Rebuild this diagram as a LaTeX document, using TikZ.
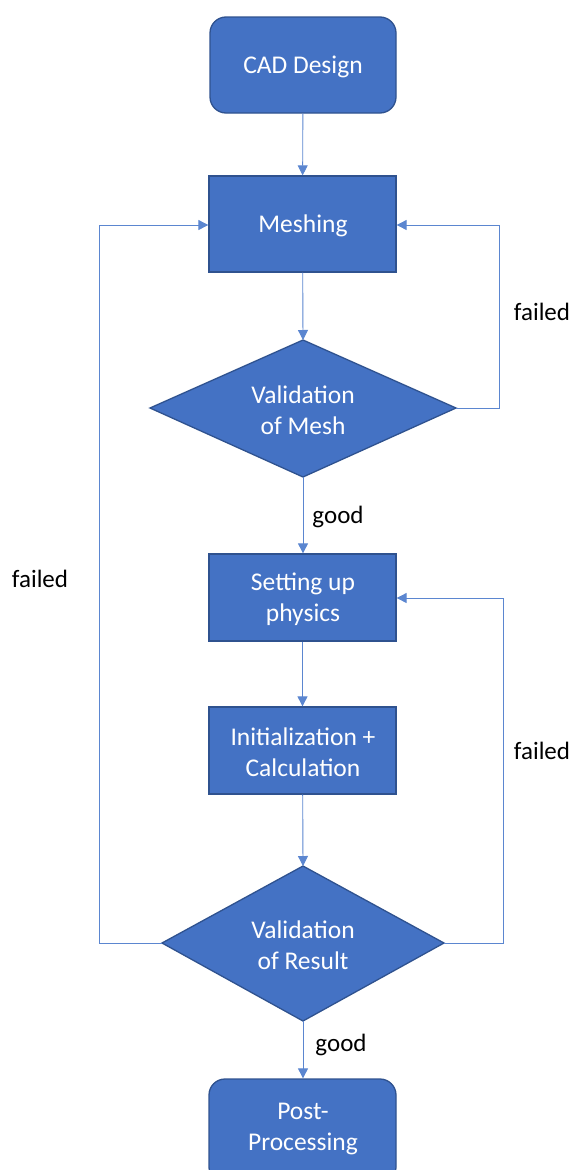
\documentclass[tikz,border=0pt]{standalone}
\usepackage{fontspec}
\setmainfont{Carlito}
\usetikzlibrary{shapes.geometric,arrows.meta}
\definecolor{boxfill}{HTML}{4472C4}
\definecolor{boxline}{HTML}{2F528F}
\definecolor{linkcol}{HTML}{5B86D0}
\tikzset{
  txt/.style={font=\fontsize{25.5}{30.5}\selectfont, align=center, text=white, inner sep=0pt},
  procbox/.style={draw=boxline, line width=1.3pt, fill=boxfill, inner sep=0pt},
  termbox/.style={procbox, rounded corners=16pt},
  decision/.style={draw=boxline, line width=1.3pt, fill=boxfill},
  link/.style={draw=linkcol, line width=0.9pt, -{Triangle[length=10pt,width=10pt]}},
  lbl/.style={font=\fontsize{25}{30}\selectfont, text=black, inner sep=0pt},
}
\begin{document}
\begin{tikzpicture}[x=1pt,y=-1pt]
\useasboundingbox (0,0) rectangle (574,1170);

% shapes of the process steps
\node[termbox, minimum width=186pt, minimum height=96pt] (cad) at (303,65) {};
\node[procbox, minimum width=187pt, minimum height=96pt] (mesh) at (302.5,224) {};
\path[decision] (150,408) -- (303,340) -- (456,408) -- (303,477) -- cycle;
\coordinate (vmT) at (303,340);
\coordinate (vmB) at (303,477);
\coordinate (vmR) at (456,408);
\node[procbox, minimum width=187pt, minimum height=87pt] (phys) at (302.5,597.5) {};
\node[procbox, minimum width=187pt, minimum height=87pt] (init) at (302.5,750.5) {};
\path[decision] (162,943) -- (303,866) -- (444,943) -- (303,1021) -- cycle;
\coordinate (vrT) at (303,866);
\coordinate (vrB) at (303,1021);
\coordinate (vrL) at (162,943);
\coordinate (vrR) at (444,943);
\node[termbox, minimum width=187pt, minimum height=104pt] (post) at (302.5,1131) {};

% step texts
\node[txt] (tcad) at (303,67) {CAD Design};
\node[txt] (tmesh) at (303,226) {Meshing};
\node[txt] (tvmesh) at (303,410) {Validation\\of Mesh};
\node[txt] (tphys) at (303,599) {Setting up\\physics};
\node[txt] (tinit) at (303,752) {Initialization +\\Calculation};
\node[txt] (tvres) at (303,945) {Validation\\of Result};
\node[txt] (tpost) at (303,1129) {Post-\\Processing};

% main flow
\draw[link] (cad) -- (mesh);
\draw[link] (mesh) -- (vmT);
\draw[link] (vmB) -- (phys.north -| vmB);
\draw[link] (phys) -- (init);
\draw[link] (init) -- (vrT);
\draw[link] (vrB) -- (post.north -| vrB);

% feedback loops
\coordinate (c1) at (499,408);
\coordinate (c2) at (499,225);
\draw[link] (vmR) -- (c1) -- (c2) -- (mesh.east |- c2);
\coordinate (c3) at (99,943);
\coordinate (c4) at (99,225);
\draw[link] (vrL) -- (c3) -- (c4) -- (mesh.west |- c4);
\coordinate (c5) at (503,943);
\coordinate (c6) at (503,598);
\draw[link] (vrR) -- (c5) -- (c6) -- (phys.east |- c6);

% labels
\node[lbl] (l1) at (542,312) {failed};
\node[lbl] (l2) at (40,579) {failed};
\node[lbl] (l3) at (542,751) {failed};
\node[lbl] (l4) at (338,517) {good};
\node[lbl] (l5) at (341,1045) {good};
\end{tikzpicture}
\end{document}
